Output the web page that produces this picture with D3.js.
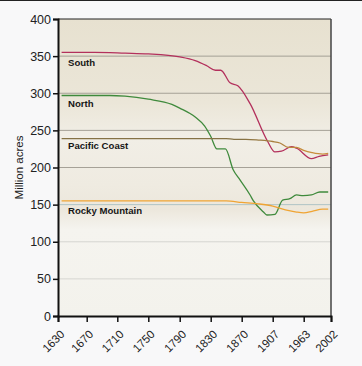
<!DOCTYPE html>
<html>
<head>
<meta charset="utf-8">
<script src="https://cdn.jsdelivr.net/npm/d3@7"></script>
<style>
  body { margin: 0; background: #f8f8f9; }
  svg { display: block; font-family: "Liberation Sans", Arial, sans-serif; }
</style>
</head>
<body>
<svg id="chart"></svg>
<script>
const W = 362, H = 366;

// tick years on the x axis (spacing is not proportional in the original)
const xTicks = [1630, 1670, 1710, 1750, 1790, 1830, 1870, 1907, 1963, 2002];
const yTicks = [0, 50, 100, 150, 200, 250, 300, 350, 400];

// [year, million acres]
const south = [[1635,355],[1680,355],[1720,354],[1750,353],[1790,349],[1810,344],[1825,337],
  [1836,331],[1843,331],[1855,314],[1865,310],[1880,286],[1901,235],[1911,221],[1923,222],
  [1941,228],[1950,226],[1974,212],[1985,215],[1998,217]];
const north = [[1635,297],[1700,297],[1720,296],[1750,292],[1780,285],[1790,280],[1810,268],
  [1822,256],[1830,242],[1838,225],[1849,225],[1859,197],[1868,183],[1880,163],[1884,155],
  [1896,140],[1900,136],[1911,137],[1925,156],[1938,158],[1950,163],[1962,162],[1974,163],
  [1986,167],[1998,167]];
const pacific = [[1635,239],[1850,239],[1860,238],[1875,238],[1890,237],[1907,235],[1920,233],
  [1935,227],[1950,227],[1963,223],[1975,220],[1990,218],[1998,219]];
const rocky = [[1635,155],[1850,155],[1870,153],[1890,151],[1907,148],[1930,143],[1950,140],
  [1963,139],[1975,141],[1990,144],[1998,144]];

const series = [
  {name: 'South', data: south, color: '#b3305c', labelY: 337},
  {name: 'North', data: north, color: '#3f8a3c', labelY: 281.5},
  {name: 'Pacific Coast', data: pacific, color: 'url(#pacificStroke)', labelY: 224.5},
  {name: 'Rocky Mountain', data: rocky, color: '#f0a433', labelY: 137}
];

const mLeft = 58, mRight = 331, mTop = 19, mBottom = 316;

const svg = d3.select('#chart').attr('width', W).attr('height', H);

const x = d3.scaleLinear()
  .domain(xTicks)
  .range([58, 86.7, 117.3, 148.3, 179.7, 210.7, 241.7, 272.7, 303.7, 331]);
const y = d3.scaleLinear().domain([0, 400]).range([mBottom, mTop]);

// plot background
const defs = svg.append('defs');
const grad = defs.append('linearGradient').attr('id', 'bg')
  .attr('x1', 0).attr('x2', 0).attr('y1', 0).attr('y2', 1);
grad.append('stop').attr('offset', '0%').attr('stop-color', '#e7e1d0');
grad.append('stop').attr('offset', '28%').attr('stop-color', '#ebe6d8');
grad.append('stop').attr('offset', '40%').attr('stop-color', '#f1eee6');
grad.append('stop').attr('offset', '56%').attr('stop-color', '#efebe1');
grad.append('stop').attr('offset', '64%').attr('stop-color', '#ece7dc');
grad.append('stop').attr('offset', '71%').attr('stop-color', '#f5f4ef');
grad.append('stop').attr('offset', '100%').attr('stop-color', '#f3f2ec');

// pacific line goes from olive brown to orange brown
const pg = defs.append('linearGradient').attr('id', 'pacificStroke')
  .attr('gradientUnits', 'userSpaceOnUse')
  .attr('x1', x(1870)).attr('x2', x(1963)).attr('y1', 0).attr('y2', 0);
pg.append('stop').attr('offset', '0%').attr('stop-color', '#857245');
pg.append('stop').attr('offset', '100%').attr('stop-color', '#c98d3c');

svg.append('rect')
  .attr('x', mLeft).attr('y', mTop)
  .attr('width', mRight - mLeft).attr('height', mBottom - mTop)
  .attr('fill', 'url(#bg)');

// grid
const gridColor = d => d >= 200 ? '#9d998f' : (d === 150 ? '#a8c0c2' : '#d3d2ce');
svg.append('g').selectAll('line')
  .data(yTicks.filter(d => d > 0 && d < 400))
  .enter().append('line')
  .attr('x1', mLeft).attr('x2', mRight)
  .attr('y1', d => y(d)).attr('y2', d => y(d))
  .attr('stroke', gridColor)
  .attr('stroke-width', 0.9);

// top and right frame
svg.append('line').attr('x1', mLeft).attr('x2', mRight).attr('y1', mTop).attr('y2', mTop)
  .attr('stroke', '#222').attr('stroke-width', 1.2);
svg.append('line').attr('x1', mRight).attr('x2', mRight).attr('y1', mTop).attr('y2', mBottom)
  .attr('stroke', '#444').attr('stroke-width', 1.5);

// lines
const line = d3.line()
  .x(d => x(d[0]))
  .y(d => y(d[1]))
  .curve(d3.curveMonotoneX);

svg.append('g').selectAll('path')
  .data(series)
  .enter().append('path')
  .attr('d', d => line(d.data))
  .attr('fill', 'none')
  .attr('stroke', d => d.color)
  .attr('stroke-width', 1.3);

// series labels
svg.append('g').selectAll('text')
  .data(series)
  .enter().append('text')
  .attr('x', 68)
  .attr('y', d => y(d.labelY))
  .attr('font-size', 9.6)
  .attr('font-weight', 'bold')
  .attr('fill', '#161616')
  .text(d => d.name);

// axes
const yAxis = svg.append('g')
  .attr('transform', `translate(${mLeft},0)`)
  .call(d3.axisLeft(y).tickValues(yTicks).tickSize(5).tickPadding(2));
yAxis.selectAll('text').attr('font-size', 12.5).attr('fill', '#222');

const xAxis = svg.append('g')
  .attr('transform', `translate(0,${mBottom})`)
  .call(d3.axisBottom(x).tickValues(xTicks).tickFormat(d3.format('d')).tickSize(6));
xAxis.selectAll('text')
  .attr('font-size', 11.5)
  .attr('fill', '#222')
  .attr('text-anchor', 'end')
  .attr('x', 0)
  .attr('y', 0)
  .attr('dy', '0.35em')
  .attr('transform', 'translate(4,16) rotate(-45)');

[yAxis, xAxis].forEach(a => {
  a.selectAll('.domain').attr('stroke', '#111').attr('stroke-width', 2);
  a.selectAll('.tick line').attr('stroke', '#111').attr('stroke-width', 1.5);
});

// y axis title
svg.append('text')
  .attr('transform', `translate(23,${(mTop + mBottom) / 2}) rotate(-90)`)
  .attr('text-anchor', 'middle')
  .attr('font-size', 11.5)
  .attr('fill', '#222')
  .text('Million acres');

// thin border at the top of the image
svg.append('line').attr('x1', 0).attr('x2', W).attr('y1', 0.5).attr('y2', 0.5)
  .attr('stroke', '#222');
</script>
</body>
</html>
